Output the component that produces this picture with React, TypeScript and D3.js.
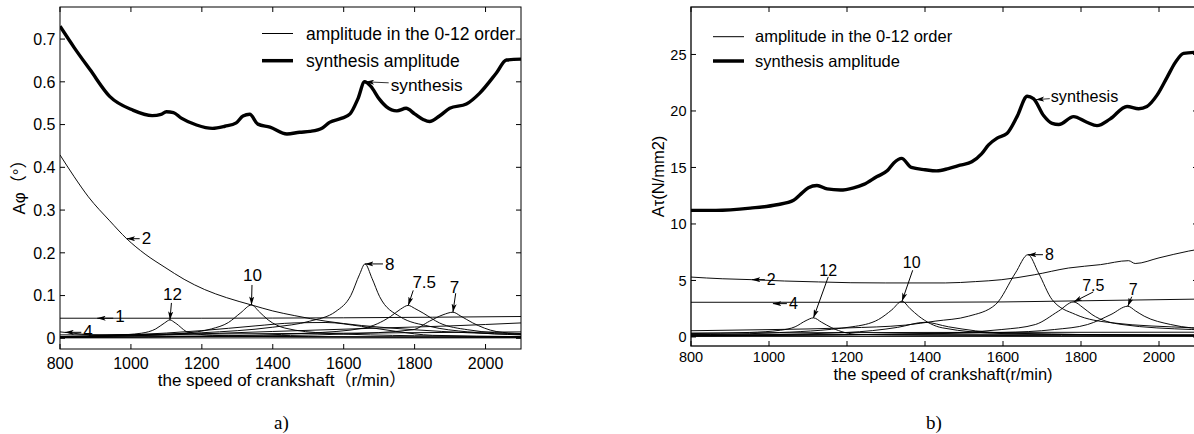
import React from "react";
import * as d3 from "d3";

type Pt = [number, number];

// shared x axis
const speedTicks = [800, 1000, 1200, 1400, 1600, 1800, 2000];

// ---- a) torsional angle amplitude (deg) ----
const phiTicks = [0, 0.1, 0.2, 0.3, 0.4, 0.5, 0.6, 0.7];

const phiSynthesis: Pt[] = [
  [800, 0.730], [840, 0.680], [885, 0.628], [940, 0.566], [1005, 0.534], [1060, 0.521],
  [1085, 0.524], [1100, 0.530], [1120, 0.528], [1142, 0.515], [1185, 0.499], [1230, 0.491],
  [1265, 0.496], [1297, 0.504], [1316, 0.520], [1335, 0.524], [1358, 0.501], [1392, 0.494],
  [1440, 0.478], [1476, 0.482], [1505, 0.484], [1540, 0.492], [1560, 0.505], [1595, 0.515],
  [1618, 0.525], [1640, 0.560], [1659, 0.600], [1676, 0.590], [1700, 0.560], [1720, 0.542],
  [1750, 0.532], [1776, 0.538], [1800, 0.525], [1824, 0.512], [1842, 0.507], [1870, 0.520],
  [1899, 0.538], [1946, 0.548], [1983, 0.573], [2030, 0.620], [2059, 0.651], [2100, 0.653],
];
const phiOrder1: Pt[] = [[800, 0.047], [1200, 0.047], [1600, 0.048], [2100, 0.051]];
const phiOrder2: Pt[] = [
  [800, 0.429], [840, 0.378], [880, 0.331], [940, 0.275], [988, 0.233], [1040, 0.197],
  [1096, 0.166], [1150, 0.138], [1208, 0.114], [1270, 0.095], [1340, 0.078], [1400, 0.064],
  [1462, 0.053], [1550, 0.040], [1650, 0.030], [1800, 0.020], [1950, 0.013], [2100, 0.009],
];
const phiOrder4: Pt[] = [[800, 0.015], [860, 0.010], [920, 0.006], [1100, 0.005], [1500, 0.004], [2100, 0.003]];
const phiOrder12: Pt[] = [
  [800, 0.004], [950, 0.007], [1030, 0.012], [1070, 0.022], [1095, 0.036], [1110, 0.043],
  [1125, 0.036], [1162, 0.014], [1230, 0.007], [1400, 0.004], [2100, 0.002],
];
const phiOrder10: Pt[] = [
  [800, 0.003], [1000, 0.006], [1150, 0.012], [1227, 0.022], [1275, 0.037], [1310, 0.060],
  [1340, 0.078], [1362, 0.062], [1387, 0.043], [1434, 0.024], [1550, 0.012], [1800, 0.006], [2100, 0.004],
];
const phiOrder8: Pt[] = [
  [800, 0.004], [1000, 0.008], [1200, 0.013], [1400, 0.026], [1504, 0.040], [1578, 0.063],
  [1620, 0.100], [1645, 0.150], [1660, 0.174], [1680, 0.140], [1701, 0.098], [1758, 0.051],
  [1842, 0.028], [1950, 0.015], [2100, 0.008],
];
const phiOrder75: Pt[] = [
  [800, 0.002], [1200, 0.005], [1500, 0.012], [1657, 0.024], [1732, 0.051], [1760, 0.068],
  [1782, 0.077], [1800, 0.070], [1824, 0.059], [1870, 0.036], [1950, 0.020], [2100, 0.010],
];
const phiOrder7: Pt[] = [
  [800, 0.002], [1300, 0.005], [1600, 0.010], [1795, 0.020], [1842, 0.040], [1880, 0.055],
  [1908, 0.061], [1930, 0.052], [1964, 0.036], [2030, 0.016], [2100, 0.011],
];
const phiOrder5: Pt[] = [
  [800, 0.003], [1000, 0.008], [1200, 0.018], [1350, 0.029], [1460, 0.036], [1550, 0.037],
  [1650, 0.028], [1750, 0.016], [1850, 0.007], [2100, 0.004],
];
const phiOrder6: Pt[] = [[800, 0.002], [1100, 0.008], [1400, 0.016], [1700, 0.024], [1900, 0.029], [2100, 0.036]];
const phiOrder3: Pt[] = [[800, 0.008], [1200, 0.010], [1600, 0.012], [2100, 0.015]];
const phiOrder05: Pt[] = [[800, 0.001], [2100, 0.001]];

// ---- b) shear stress amplitude (N/mm2) ----
const tauTicks = [0, 5, 10, 15, 20, 25];

const tauSynthesis: Pt[] = [
  [800, 11.2], [864, 11.2], [952, 11.4], [1020, 11.7], [1063, 12.1], [1080, 12.6], [1101, 13.2],
  [1123, 13.4], [1149, 13.1], [1183, 13.0], [1217, 13.2], [1243, 13.5], [1277, 14.2], [1303, 14.7],
  [1320, 15.4], [1340, 15.8], [1365, 15.0], [1400, 14.8], [1430, 14.7], [1460, 14.9], [1490, 15.2],
  [1520, 15.5], [1545, 16.2], [1563, 17.0], [1585, 17.6], [1610, 18.0], [1636, 19.5], [1662, 21.3],
  [1678, 21.1], [1704, 19.6], [1726, 18.9], [1743, 18.8], [1781, 19.5], [1815, 19.0], [1841, 18.7],
  [1875, 19.3], [1918, 20.4], [1948, 20.2], [1969, 20.4], [1995, 21.4], [2021, 23.0], [2042, 24.3],
  [2063, 25.1], [2100, 25.2],
];
const tauOrder2: Pt[] = [
  [800, 5.3], [880, 5.15], [956, 5.07], [1040, 4.95], [1127, 4.87], [1210, 4.8], [1298, 4.78],
  [1452, 4.78], [1530, 4.9], [1597, 5.07], [1680, 5.5], [1768, 6.1], [1850, 6.4], [1922, 6.75],
  [1939, 6.5], [2000, 7.0], [2076, 7.6], [2100, 7.75],
];
const tauOrder4: Pt[] = [[800, 3.07], [1400, 3.07], [1600, 3.1], [1800, 3.2], [2100, 3.35]];
const tauOrder12: Pt[] = [
  [800, 0.3], [950, 0.4], [1030, 0.6], [1067, 0.9], [1095, 1.45], [1114, 1.69], [1135, 1.3],
  [1161, 0.81], [1230, 0.22], [1400, 0.15], [2100, 0.1],
];
const tauOrder10: Pt[] = [
  [800, 0.2], [1000, 0.35], [1213, 0.9], [1281, 1.55], [1315, 2.4], [1341, 3.16], [1362, 2.5],
  [1384, 1.84], [1444, 0.81], [1600, 0.3], [2100, 0.15],
];
const tauOrder9: Pt[] = [[800, 0.1], [1200, 0.4], [1330, 0.85], [1400, 1.3], [1460, 0.9], [1600, 0.35], [2100, 0.12]];
const tauOrder8: Pt[] = [
  [800, 0.55], [1000, 0.65], [1200, 0.8], [1350, 1.05], [1426, 1.4], [1512, 1.84], [1581, 2.87],
  [1632, 5.67], [1664, 7.28], [1691, 5.67], [1726, 3.3], [1786, 1.99], [1880, 1.25], [2084, 0.81], [2100, 0.78],
];
const tauOrder75: Pt[] = [
  [800, 0.1], [1400, 0.3], [1597, 0.66], [1683, 1.1], [1742, 2.28], [1781, 3.1], [1805, 2.6],
  [1828, 1.99], [1905, 1.1], [2084, 0.66], [2100, 0.64],
];
const tauOrder7: Pt[] = [
  [800, 0.1], [1600, 0.4], [1732, 0.66], [1817, 1.1], [1877, 1.99], [1920, 2.72], [1940, 2.3],
  [1962, 1.84], [2030, 1.1], [2084, 0.8], [2100, 0.76],
];
const tauOrder1: Pt[] = [[800, 0.2], [2100, 0.2]];
const tauOrder05: Pt[] = [[800, 0.05], [2100, 0.05]];
const tauOrder3: Pt[] = [[800, 0.35], [1400, 0.4], [2100, 0.42]];

type Note = {
  text: string; at: Pt; tx: number; ty: number; ax: number; ay: number; anchor: "start" | "middle";
};

const phiNotes: Note[] = [
  { text: "synthesis", at: [1662, 0.600], tx: 25, ty: 3, ax: 23, ay: 1, anchor: "start" },
  { text: "2", at: [988, 0.233], tx: 15, ty: -1, ax: 13, ay: 0, anchor: "start" },
  { text: "1", at: [905, 0.047], tx: 18, ty: -2, ax: 16, ay: 0, anchor: "start" },
  { text: "4", at: [815, 0.014], tx: 18, ty: -1, ax: 16, ay: 0, anchor: "start" },
  { text: "12", at: [1110, 0.043], tx: 2.5, ty: -26, ax: 1.5, ay: -17, anchor: "middle" },
  { text: "10", at: [1340, 0.078], tx: 1, ty: -30, ax: 0.5, ay: -20, anchor: "middle" },
  { text: "8", at: [1660, 0.174], tx: 20, ty: 0, ax: 18, ay: 0, anchor: "start" },
  { text: "7.5", at: [1782, 0.077], tx: 16, ty: -24, ax: 5, ay: -15, anchor: "middle" },
  { text: "7", at: [1908, 0.061], tx: 1.5, ty: -25.5, ax: 2.8, ay: -19, anchor: "middle" },
];

const tauNotes: Note[] = [
  { text: "synthesis", at: [1684, 21.0], tx: 15, ty: -3, ax: 14, ay: -1, anchor: "start" },
  { text: "2", at: [956, 5.07], tx: 15, ty: -0.5, ax: 13, ay: 0, anchor: "start" },
  { text: "4", at: [1010, 2.95], tx: 16, ty: 0, ax: 14, ay: 0, anchor: "start" },
  { text: "12", at: [1114, 1.69], tx: 14.8, ty: -47.6, ax: 14.8, ay: -41, anchor: "middle" },
  { text: "10", at: [1341, 3.16], tx: 9.7, ty: -39.3, ax: 10.7, ay: -31, anchor: "middle" },
  { text: "8", at: [1664, 7.28], tx: 17, ty: 0, ax: 15, ay: 0, anchor: "start" },
  { text: "7.5", at: [1781, 3.1], tx: 19.7, ty: -17, ax: 19.7, ay: -10, anchor: "middle" },
  { text: "7", at: [1920, 2.72], tx: 5.5, ty: -17, ax: 3.9, ay: -9.5, anchor: "middle" },
];

const SANS = "'Liberation Sans', Arial, 'Noto Sans CJK SC', sans-serif";

type PanelProps = {
  id: string;
  box: { left: number; right: number; top: number; bottom: number };
  yDomain: [number, number];
  yTicks: number[];
  synthesis: Pt[];
  orders: Pt[][];
  notes: Note[];
  tickSize: number;
  xTickY: number;
  noteSize: number;
  synthNoteSize: number;
  legend: { x1: number; x2: number; tx: number; y1: number; y2: number; size: number };
  xLabel: { text: string; x: number; y: number; size: number };
  yLabel: { text: string; x: number; y: number; size: number };
  caption: { text: string; x: number; y: number };
  axisWidth: number;
};

function Panel(p: PanelProps) {
  const { box } = p;
  const x = d3.scaleLinear().domain([800, 2100]).range([box.left, box.right]);
  const y = d3.scaleLinear().domain(p.yDomain).range([box.bottom, box.top]);
  const line = d3.line<Pt>().x(d => x(d[0])).y(d => y(d[1])).curve(d3.curveMonotoneX);
  const tl = 5;

  return (
    <g>
      <defs>
        <clipPath id={`clip-${p.id}`}>
          <rect x={box.left} y={box.top} width={box.right - box.left} height={box.bottom - box.top} />
        </clipPath>
      </defs>
      <g clipPath={`url(#clip-${p.id})`}>
        {p.orders.map((o, i) => (
          <path key={i} d={line(o) || ""} fill="none" stroke="#000" strokeWidth={0.95} />
        ))}
        <path d={line(p.synthesis) || ""} fill="none" stroke="#000" strokeWidth={3.4} strokeLinejoin="round" />
      </g>

      {/* legend */}
      <line x1={p.legend.x1} x2={p.legend.x2} y1={p.legend.y1} y2={p.legend.y1} stroke="#000" strokeWidth={1} />
      <line x1={p.legend.x1} x2={p.legend.x2} y1={p.legend.y2} y2={p.legend.y2} stroke="#000" strokeWidth={3.5} />
      <text x={p.legend.tx} y={p.legend.y1} dy="0.35em" fontSize={p.legend.size} fontFamily={SANS}>
        amplitude in the 0-12 order
      </text>
      <text x={p.legend.tx} y={p.legend.y2} dy="0.35em" fontSize={p.legend.size} fontFamily={SANS}>
        synthesis amplitude
      </text>

      {/* annotations */}
      {p.notes.map((n, i) => {
        const px = x(n.at[0]);
        const py = y(n.at[1]);
        const big = n.text === "synthesis";
        return (
          <g key={i}>
            <line x1={px + n.ax} y1={py + n.ay} x2={px} y2={py} stroke="#000" strokeWidth={big ? 0.8 : 1}
              markerEnd="url(#arrowhead)" />
            <text x={px + n.tx} y={py + n.ty} dy="0.36em" textAnchor={n.anchor}
              fontSize={big ? p.synthNoteSize : p.noteSize} fontFamily={SANS}>{n.text}</text>
          </g>
        );
      })}

      {/* axes box */}
      <rect x={box.left} y={box.top} width={box.right - box.left} height={box.bottom - box.top}
        fill="none" stroke="#000" strokeWidth={p.axisWidth} />
      {speedTicks.map(t => (
        <g key={t}>
          <line x1={x(t)} x2={x(t)} y1={box.bottom} y2={box.bottom - tl} stroke="#000" />
          <line x1={x(t)} x2={x(t)} y1={box.top} y2={box.top + tl} stroke="#000" />
          <text x={x(t)} y={p.xTickY} textAnchor="middle" fontSize={p.tickSize} fontFamily={SANS}>{t}</text>
        </g>
      ))}
      {p.yTicks.map(t => (
        <g key={t}>
          <line x1={box.left} x2={box.left + tl} y1={y(t)} y2={y(t)} stroke="#000" />
          <line x1={box.right} x2={box.right - tl} y1={y(t)} y2={y(t)} stroke="#000" />
          <text x={box.left - 4.5} y={y(t)} dy="0.36em" textAnchor="end" fontSize={p.tickSize} fontFamily={SANS}>{t}</text>
        </g>
      ))}

      <text x={p.xLabel.x} y={p.xLabel.y} textAnchor="middle" fontSize={p.xLabel.size} fontFamily={SANS}>
        {p.xLabel.text}
      </text>
      <text transform={`translate(${p.yLabel.x},${p.yLabel.y}) rotate(-90)`} dy="0.35em" textAnchor="middle"
        fontSize={p.yLabel.size} fontFamily={SANS}>{p.yLabel.text}</text>
      <text x={p.caption.x} y={p.caption.y} textAnchor="middle" fontSize={19}
        fontFamily="'Liberation Serif', 'Times New Roman', serif">{p.caption.text}</text>
    </g>
  );
}

export default function App() {
  return (
    <svg width={1194} height={434} style={{ position: "absolute", left: 0, top: 0, background: "#fff" }}>
      <defs>
        <marker id="arrowhead" viewBox="0 0 10 6" refX={10} refY={3} markerWidth={8.5} markerHeight={5.2}
          orient="auto" markerUnits="userSpaceOnUse">
          <path d="M0,0 L10,3 L0,6 L2.5,3 Z" fill="#000" />
        </marker>
      </defs>
      <rect width={1194} height={434} fill="#fff" />
      <Panel
        id="a"
        box={{ left: 60, right: 521, top: 7, bottom: 349 }}
        yDomain={[-0.025, 0.775]}
        yTicks={phiTicks}
        synthesis={phiSynthesis}
        orders={[phiOrder05, phiOrder3, phiOrder6, phiOrder5, phiOrder4, phiOrder1, phiOrder2,
          phiOrder12, phiOrder10, phiOrder8, phiOrder75, phiOrder7]}
        notes={phiNotes}
        tickSize={16}
        xTickY={368.5}
        noteSize={17}
        synthNoteSize={17.3}
        legend={{ x1: 262, x2: 293, tx: 306, y1: 33.5, y2: 60.7, size: 17.5 }}
        xLabel={{ text: "the speed of crankshaft（r/min）", x: 282, y: 386, size: 17 }}
        yLabel={{ text: "Aφ（°）", x: 19.5, y: 183, size: 17 }}
        caption={{ text: "a)", x: 281.5, y: 429 }}
        axisWidth={1}
      />
      <Panel
        id="b"
        box={{ left: 691, right: 1198, top: 7, bottom: 346 }}
        yDomain={[-0.8, 29.2]}
        yTicks={tauTicks}
        synthesis={tauSynthesis}
        orders={[tauOrder05, tauOrder1, tauOrder3, tauOrder4, tauOrder2, tauOrder12, tauOrder10,
          tauOrder9, tauOrder8, tauOrder75, tauOrder7]}
        notes={tauNotes}
        tickSize={14.5}
        xTickY={362}
        noteSize={16}
        synthNoteSize={16.2}
        legend={{ x1: 713, x2: 744, tx: 755, y1: 36.7, y2: 61, size: 16.5 }}
        xLabel={{ text: "the speed of crankshaft(r/min)", x: 943, y: 380, size: 16.5 }}
        yLabel={{ text: "Aτ(N/mm2)", x: 658, y: 176.5, size: 16.5 }}
        caption={{ text: "b)", x: 934, y: 429 }}
        axisWidth={1.3}
      />
    </svg>
  );
}
